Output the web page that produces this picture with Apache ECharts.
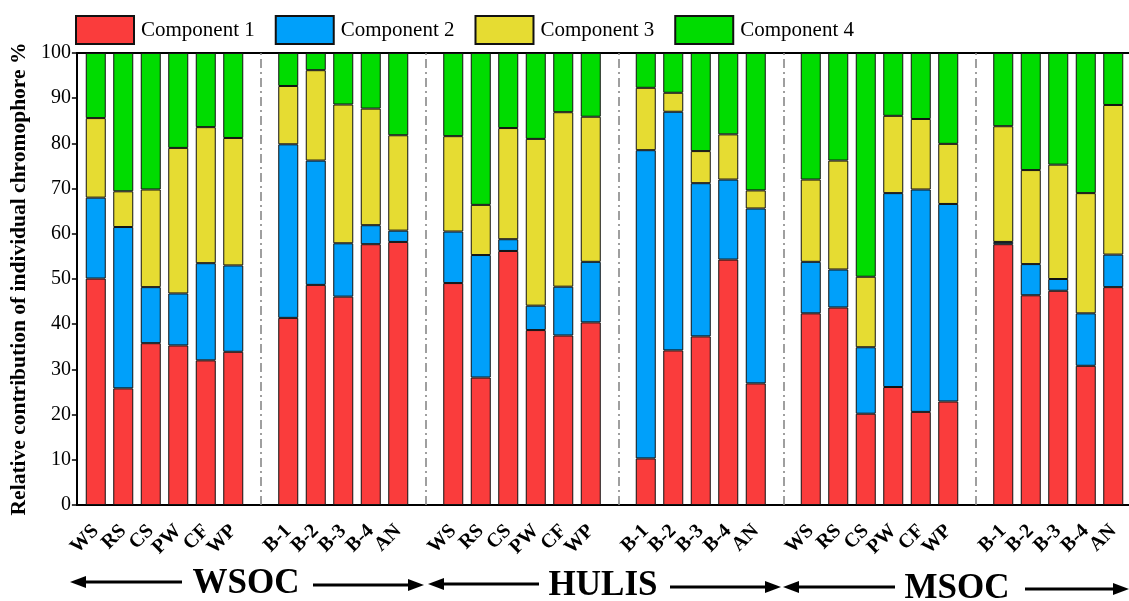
<!DOCTYPE html>
<html>
<head>
<meta charset="utf-8">
<script src="https://cdn.jsdelivr.net/npm/echarts@6/dist/echarts.min.js"></script>
<style>
html,body{margin:0;padding:0;background:#fff;}
#chart{width:1129px;height:601px;}
</style>
</head>
<body>
<div id="chart"></div>
<script>
// ---- data ----
const groupNames = ['WSOC', 'HULIS', 'MSOC'];
const sourceCats = ['WS', 'RS', 'CS', 'PW', 'CF', 'WP'];
const ambientCats = ['B-1', 'B-2', 'B-3', 'B-4', 'AN'];
const seriesNames = ['Component 1', 'Component 2', 'Component 3', 'Component 4'];
const seriesColors = ['#FA3C3C', '#00A0FA', '#E6DC32', '#00DC00'];
const yTicks = [0, 10, 20, 30, 40, 50, 60, 70, 80, 90, 100];

// order: WSOC sources, WSOC ambient, HULIS sources, HULIS ambient, MSOC sources, MSOC ambient
const comp1 = [50.1, 25.8, 35.8, 35.3, 32.0, 33.9,  41.4, 48.7, 46.1, 57.7, 58.2,
               49.1, 28.2, 56.2, 38.7, 37.5, 40.4,  10.3, 34.2, 37.3, 54.3, 26.9,
               42.4, 43.7, 20.2, 26.1, 20.6, 22.9,  57.7, 46.4, 47.4, 30.8, 48.2];
const comp2 = [17.9, 35.7, 12.4, 11.5, 21.5, 19.1,  38.4, 27.5, 11.8, 4.2, 2.5,
               11.4, 27.1, 2.6, 5.4, 10.8, 13.4,    68.2, 52.8, 33.9, 17.7, 38.7,
               11.4, 8.4, 14.7, 42.9, 49.2, 43.7,   0.5, 6.9, 2.6, 11.6, 7.2];
const comp3 = [17.6, 7.9, 21.6, 32.2, 30.1, 28.2,   12.9, 20.0, 30.7, 25.8, 21.1,
               21.1, 11.1, 24.6, 36.9, 38.6, 32.1,  13.8, 4.2, 7.1, 10.0, 4.0,
               18.2, 24.1, 15.6, 17.1, 15.6, 13.3,  25.6, 20.8, 25.3, 26.6, 33.1];
const comp4 = [14.4, 30.6, 30.2, 21.0, 16.4, 18.8,  7.3, 3.8, 11.4, 12.3, 18.2,
               18.4, 33.6, 16.6, 19.0, 13.1, 14.1,  7.7, 8.8, 21.7, 18.0, 30.4,
               28.0, 23.8, 49.5, 13.9, 14.6, 20.1,  16.2, 25.9, 24.7, 31.0, 11.5];
const comps = [comp1, comp2, comp3, comp4];

// ---- build category axis with gap slots between blocks ----
const categories = [];   // unique keys
const labelOf = {};
const gapKeys = [];
const slotIndex = [];    // index into comp arrays, or -1 for gap
let k = 0;
groupNames.forEach((g, gi) => {
  [sourceCats, ambientCats].forEach((block, bi) => {
    block.forEach(c => {
      const key = g + '|' + c;
      categories.push(key); labelOf[key] = c; slotIndex.push(k++);
    });
    const last = (gi === groupNames.length - 1 && bi === 1);
    if (!last) {
      const gk = 'gap' + gapKeys.length;
      categories.push(gk); labelOf[gk] = ''; gapKeys.push(gk); slotIndex.push(-1);
    }
  });
});

const font = 'Liberation Serif';
const chart = echarts.init(document.getElementById('chart'), null, {renderer: 'canvas'});

const series = comps.map((arr, si) => ({
  name: seriesNames[si],
  type: 'bar',
  stack: 'total',
  xAxisIndex: 2, yAxisIndex: 1,
  barWidth: 20,
  itemStyle: {color: seriesColors[si], borderColor: '#111', borderWidth: 1},
  emphasis: {disabled: true},
  data: slotIndex.map(i => i < 0 ? '-' : arr[i]),
  markLine: si === 0 ? {
    silent: true, symbol: ['none', 'none'], label: {show: false},
    lineStyle: {color: '#888', width: 1.6, type: [9, 4, 2, 4]},
    data: gapKeys.map(gk => ({xAxis: gk}))
  } : undefined
}));

// decorative group arrows and titles under the axis
function arrow(x1, x2, y) {
  const dir = x2 > x1 ? 1 : -1;
  return [
    {type: 'line', shape: {x1: x1, y1: y, x2: x2 - dir * 12, y2: y}, style: {stroke: '#000', lineWidth: 3}},
    {type: 'polygon', shape: {points: [[x2, y], [x2 - dir * 16, y - 6], [x2 - dir * 16, y + 6]]}, style: {fill: '#000'}}
  ];
}
const groupLabelPos = [[246, 584], [603, 586], [957, 589]];
const arrowSpec = [
  [182, 70, 582], [313, 424, 585],
  [539, 428, 584], [670, 781, 587],
  [895, 783, 587], [1025, 1129, 589]
];
const graphics = [];
arrowSpec.forEach(a => graphics.push(...arrow(a[0], a[1], a[2])));
groupNames.forEach((g, i) => graphics.push({
  type: 'text', x: groupLabelPos[i][0], y: groupLabelPos[i][1],
  style: {text: g, fontFamily: font, fontWeight: 'bold', fontSize: 35, fill: '#000',
          align: 'center', verticalAlign: 'middle'}
}));

chart.setOption({
  animation: false,
  backgroundColor: '#fff',
  legend: {
    top: 10, left: 70, itemWidth: 58, itemHeight: 28, itemGap: 20,
    icon: 'rect',
    textStyle: {fontFamily: font, fontSize: 21, color: '#000', padding: [0, 0, 0, 2]},
    data: seriesNames
  },
  grid: [
    {left: 73, right: 0, top: 53, bottom: 96},
    {left: 82, right: 2, top: 53, bottom: 96}
  ],
  xAxis: [
    {gridIndex: 0, type: 'value', min: 0, max: 1, position: 'bottom',
     axisLine: {show: true, onZero: false, lineStyle: {color: '#000', width: 2}},
     axisTick: {show: false}, axisLabel: {show: false}, splitLine: {show: false}},
    {gridIndex: 0, type: 'value', min: 0, max: 1, position: 'top',
     axisLine: {show: true, onZero: false, lineStyle: {color: '#000', width: 2}},
     axisTick: {show: false}, axisLabel: {show: false}, splitLine: {show: false}},
    {gridIndex: 1, type: 'category', data: categories,
     axisLine: {show: false}, axisTick: {show: false}, splitLine: {show: false},
     axisLabel: {interval: 0, rotate: 45, margin: 23, fontFamily: font, fontWeight: 'bold',
                 fontSize: 20, color: '#000', formatter: v => labelOf[v]}}
  ],
  yAxis: [
    {gridIndex: 0, type: 'value', min: 0, max: 100, interval: 10,
     name: 'Relative contribution of individual chromophore %',
     nameLocation: 'middle', nameGap: 36,
     nameTextStyle: {fontFamily: font, fontWeight: 'bold', fontSize: 21.5, color: '#000'},
     axisLine: {show: true, lineStyle: {color: '#000', width: 2}},
     axisTick: {show: true, inside: false, length: 5, lineStyle: {color: '#000', width: 1.5}},
     axisLabel: {fontFamily: font, fontSize: 20, color: '#000', margin: 6,
                 formatter: v => yTicks.includes(v) ? String(v) : ''},
     splitLine: {show: false}},
    {gridIndex: 1, type: 'value', min: 0, max: 100, interval: 10, show: false}
  ],
  series: series,
  graphic: graphics
});
</script>
</body>
</html>
